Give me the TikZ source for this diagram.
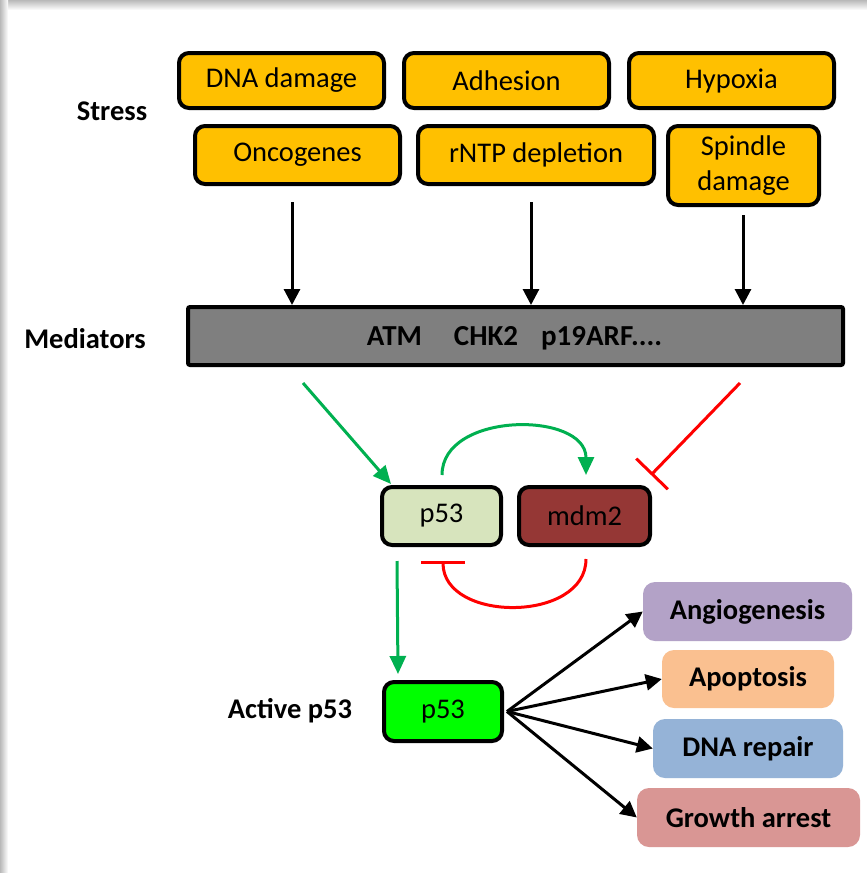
\documentclass[tikz,border=0pt]{standalone}
\usepackage{fontspec}
\setmainfont{Carlito}
\usetikzlibrary{arrows.meta,calc}
\definecolor{stressgold}{HTML}{FFC000}
\definecolor{medgray}{HTML}{7F7F7F}
\definecolor{pgreen}{HTML}{00B050}
\definecolor{p53light}{HTML}{D7E4BD}
\definecolor{mdmred}{HTML}{953735}
\definecolor{activegreen}{HTML}{00FF00}
\definecolor{angio}{HTML}{B3A2C7}
\definecolor{apop}{HTML}{FAC090}
\definecolor{repair}{HTML}{95B3D7}
\definecolor{growth}{HTML}{D99694}
\begin{document}
\begin{tikzpicture}[x=1pt,y=-1pt,
  txt/.style={font=\fontsize{28.5pt}{35pt}\selectfont},
  box/.style={txt, draw=black, line width=4pt, rounded corners=10pt, inner sep=0pt, align=center},
  stressbox/.style={box, fill=stressgold},
  outbox/.style={txt, rounded corners=12pt, inner sep=0pt, font=\fontsize{28.5pt}{35pt}\selectfont\bfseries},
  lbl/.style={txt, font=\fontsize{28.5pt}{35pt}\selectfont\bfseries},
  blk/.style={draw=black, line width=3pt, -{Triangle[length=16pt,width=16pt]}},
  grn/.style={draw=pgreen, line width=3pt, -{Triangle[length=18pt,width=16pt]}},
  inh/.style={draw=red, line width=3pt, -{Bar[width=44pt]}}
]
\useasboundingbox (0,0) rectangle (867,873);
\fill[white] (0,0) rectangle (867,873);
% frame shadow
\shade[top color=gray!55, bottom color=white] (0,0) rectangle (867,10);
\shade[left color=gray!55, right color=white] (0,0) rectangle (8,873);

% labels
\node[lbl] (lstress) at (112,111) {Stress};
\node[lbl] (lmed) at (85,339) {Mediators};
\node[lbl] (lact) at (290,711) {Active p53};

% stress boxes
\node[stressbox, minimum width=205pt, minimum height=55pt] (dna) at (281.5,80.5) {DNA damage};
\node[stressbox, minimum width=205pt, minimum height=55pt] (adh) at (506.5,80.5) {Adhesion};
\node[stressbox, minimum width=205pt, minimum height=55pt] (hyp) at (731.5,80.5) {Hypoxia};
\node[stressbox, minimum width=205pt, minimum height=58pt] (onc) at (297.5,155) {Oncogenes};
\node[stressbox, minimum width=236pt, minimum height=58pt] (rntp) at (536,155) {rNTP depletion};
\node[stressbox, minimum width=151pt, minimum height=79pt] (spin) at (743.5,165.5) {Spindle\\damage};

% mediators
\node[box, fill=medgray, rounded corners=2pt, minimum width=655pt, minimum height=58pt] (med) at (515.5,336) {};
\node[txt, font=\fontsize{29pt}{34pt}\selectfont\bfseries] (medtxt) at (514.5,338) {ATM\hspace{32pt}CHK2\hspace{23pt}p19ARF....};

\coordinate (a1) at (292,202);
\coordinate (a2) at (531,202);
\coordinate (a3) at (743,215);
\draw[blk] (a1) -- (a1 |- med.north);
\draw[blk] (a2) -- (a2 |- med.north);
\draw[blk] (a3) -- (a3 |- med.north);

% p53 / mdm2
\node[box, fill=p53light, minimum width=119pt, minimum height=58pt] (p53) at (441.5,516) {p53};
\node[box, fill=mdmred, minimum width=131pt, minimum height=58pt] (mdm) at (584.5,516) {mdm2};

\coordinate (g1) at (303,383);
\draw[grn] (g1) -- ($(p53.north west)+(11,-1)$);
\coordinate (r1) at (740,383);
\draw[inh] (r1) -- ($(mdm.north east)+(-1,-10)$);
\draw[grn] ($(p53.north)+(0.5,-10)$) .. controls +(0,-64) and +(0,-64) .. ($(mdm.north)+(1.5,-10)$);
\draw[inh] ($(mdm.south)+(1.5,12)$) .. controls +(0,64) and +(0,62) .. ($(p53.south)+(1.5,14)$);

% active p53
\node[box, fill=activegreen, minimum width=118pt, minimum height=59pt] (ap53) at (443,711.5) {p53};
\draw[grn] ($(p53.south west)+(17,14)$) -- ($(ap53.north west)+(16,-6)$);

% outcomes
\node[outbox, fill=angio, minimum width=209pt, minimum height=59pt] (ang) at (747.5,611.5) {Angiogenesis};
\node[outbox, fill=apop, minimum width=172pt, minimum height=58pt] (apo) at (748,679) {Apoptosis};
\node[outbox, fill=repair, minimum width=190pt, minimum height=59pt] (dnar) at (748,748.5) {DNA repair};
\node[outbox, fill=growth, minimum width=223pt, minimum height=59pt] (gro) at (748.5,817.5) {Growth arrest};

\coordinate (hub) at ($(ap53.east)+(3,0)$);
\draw[blk] (hub) -- (ang.west);
\draw[blk] (hub) -- (apo.west);
\draw[blk] (hub) -- (dnar.west);
\draw[blk] (hub) -- (gro.west);
\end{tikzpicture}
\end{document}
